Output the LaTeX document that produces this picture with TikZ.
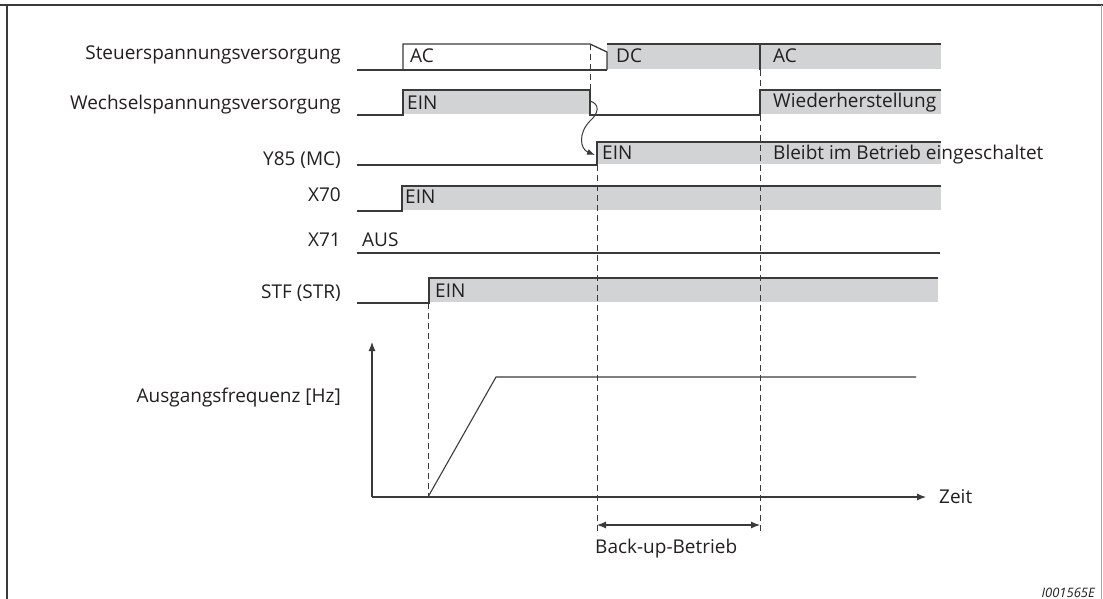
\documentclass[tikz,border=0pt]{standalone}
\usepackage{fontspec}
\setmainfont{Open Sans}
\usetikzlibrary{arrows.meta}
\definecolor{sig}{HTML}{D1D3D4}
\definecolor{ln}{HTML}{3A3A3A}
\definecolor{tx}{HTML}{231F20}
\begin{document}
\begin{tikzpicture}[x=1pt,y=-1pt,
  wave/.style={draw=ln,line width=1.3pt,line join=miter},
  lbl/.style={anchor=base east,text=tx,font=\fontsize{19}{22}\selectfont,inner sep=0pt},
  sigtxt/.style={anchor=base west,text=tx,font=\fontsize{19}{22}\selectfont,inner sep=0pt},
  guide/.style={draw=ln,line width=0.9pt,dash pattern=on 6pt off 4pt},
  axis/.style={draw=ln,line width=1.1pt}]
\useasboundingbox (0,0) rectangle (1103,599);
% frame
\draw[line width=2pt,ln] (0,5) -- (1103,5);
\draw[line width=1.5pt,ln] (7,5) -- (7,599);
\draw[line width=1pt,black!35] (1101,5) -- (1101,599);
% labels
\node[lbl] (l1) at (341,60) {Steuerspannungsversorgung};
\node[lbl] (l2) at (341,110) {Wechselspannungsversorgung};
\node[lbl] (l3) at (341,165) {Y85 (MC)};
\node[lbl] (l4) at (341,201) {X70};
\node[lbl] (l5) at (341,246) {X71};
\node[lbl] (l6) at (341,298) {STF (STR)};
\node[lbl] (l7) at (341,402) {Ausgangsfrequenz [Hz]};
% gray bars
\fill[sig] (607,44) rectangle (941,69);
\fill[sig] (403,90) rectangle (590,114);
\fill[sig] (760,90) rectangle (941,114);
\fill[sig] (597,142) rectangle (941,164);
\fill[sig] (402,186) rectangle (941,210);
\fill[sig] (429,278) rectangle (938,302);
% waveforms
\draw[wave] (357,70) -- (607,70);
\draw[wave] (403,70) -- (403,44) -- (590,44) -- (607,52) -- (607,70);
\draw[wave] (607,44) -- (941,44);
\draw[wave] (760,44) -- (760,70);
\draw[wave] (357,115) -- (403,115) -- (403,90) -- (590,90) -- (590,115) -- (760,115) -- (760,90) -- (941,90);
\draw[wave] (357,165) -- (597,165) -- (597,142) -- (941,142);
\draw[wave] (357,211) -- (402,211) -- (402,186) -- (941,186);
\draw[wave] (357,253) -- (940,253);
\draw[wave] (357,303) -- (429,303) -- (429,278) -- (938,278);
% signal texts
\node[sigtxt] (t1) at (410,63) {AC};
\node[sigtxt] (t2) at (616,63) {DC};
\node[sigtxt] (t3) at (773,63) {AC};
\node[sigtxt] (t4) at (407,110) {EIN};
\node[sigtxt] (t5) at (773,108) {Wiederherstellung};
\node[sigtxt] (t6) at (602,160) {EIN};
\node[sigtxt] (t7) at (773,160) {Bleibt im Betrieb eingeschaltet};
\node[sigtxt] (t8) at (405,204) {EIN};
\node[sigtxt] (t9) at (362,246) {AUS};
\node[sigtxt] (t10) at (435,297) {EIN};
% guides
\draw[guide] (590,44) -- (590,90);
\draw[guide] (760,70) -- (760,90);
\draw[guide] (760,115) -- (760,535);
\draw[guide] (597,165) -- (597,535);
\draw[guide] (428,303) -- (428,497);
% curly arrow
\coordinate (cs) at (590,101);
\coordinate (ce) at (595,155);
\draw[draw=ln,line width=1pt,-{Latex[length=8pt,width=6pt]}] (cs) .. controls (600,104) and (599,113) .. (590,121) .. controls (578,133) and (580,149) .. (ce);
% axes
\coordinate (o) at (372,497);
\coordinate (ytop) at (372,342);
\coordinate (xend) at (926,497);
\draw[axis,-{Latex[length=9pt,width=7pt]}] (o) -- (ytop);
\draw[axis,-{Latex[length=9pt,width=7pt]}] (o) -- (xend);
\node[sigtxt] (zeit) at (939,503) {Zeit};
\draw[draw=ln,line width=1.1pt] (428,497) -- (496,377) -- (916,377);
% dimension
\coordinate (d1) at (597,525);
\coordinate (d2) at (760,525);
\draw[axis,{Latex[length=9pt,width=7pt]}-{Latex[length=9pt,width=7pt]}] (d1) -- (d2);
\node[sigtxt] (bu) at (595,553) {Back-up-Betrieb};
\node[anchor=base east,text=tx,inner sep=0pt,font=\fontsize{13}{15}\selectfont\itshape] (id) at (1095,597) {I001565E};
\end{tikzpicture}
\end{document}
